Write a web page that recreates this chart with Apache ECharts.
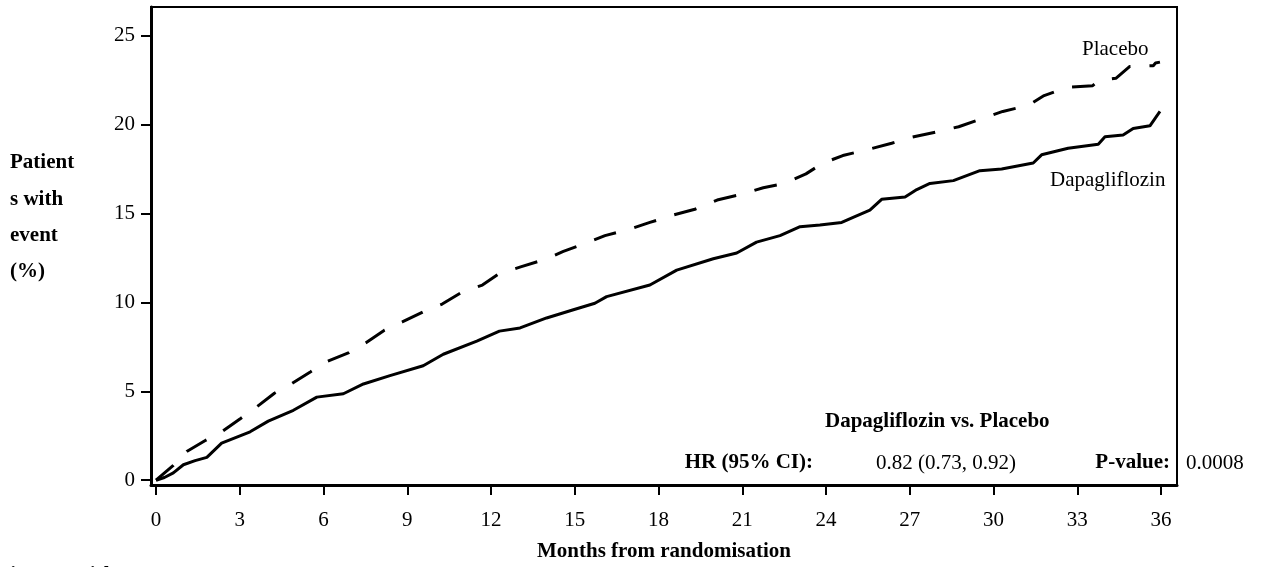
<!DOCTYPE html>
<html>
<head>
<meta charset="utf-8">
<script src="https://cdn.jsdelivr.net/npm/echarts@6/dist/echarts.min.js"></script>
<style>
html,body{margin:0;padding:0;background:#fff;}
#chart{width:1262px;height:567px;}
</style>
</head>
<body>
<div id="chart"></div>
<script>
// ---- Data ----
const xTicks = [0, 3, 6, 9, 12, 15, 18, 21, 24, 27, 30, 33, 36];
const yTicks = [0, 5, 10, 15, 20, 25];

const placeboMonths = [0,0.62,1.1,1.75,2.39,3.03,3.6,4.24,4.84,5.54,6.11,6.91,7.52,8.18,8.82,9.6,10.25,10.95,11.69,12.3,13.06,13.91,14.59,15.43,16.08,16.98,17.69,18.56,19.3,20.1,20.86,21.75,22.49,23.28,23.86,24.6,25.45,26.35,27.04,28.0,28.75,29.6,30.33,31.24,31.81,32.65,33.55,33.8,34.38,34.88,35.72,35.8,35.96];
const placeboPct    = [0,0.83,1.61,2.22,2.76,3.47,4.11,4.89,5.41,6.1,6.67,7.17,7.73,8.43,8.9,9.49,9.9,10.56,10.97,11.62,11.99,12.4,12.86,13.34,13.75,14.12,14.49,14.92,15.23,15.75,16.03,16.44,16.68,17.22,17.8,18.25,18.57,18.94,19.27,19.59,19.87,20.33,20.73,21.07,21.62,22.09,22.18,22.5,22.59,23.26,23.3,23.45,23.5];

const dapaMonths = [0,0.3,0.62,0.98,1.4,1.82,2.35,3.37,4.02,4.92,5.76,6.71,7.43,8.38,9.57,10.29,11.49,12.3,13.04,13.99,14.95,15.72,16.14,17.69,18.65,19.96,20.8,21.51,22.35,23.07,23.78,24.56,24.97,25.57,25.99,26.83,27.25,27.72,28.56,29.51,30.29,31.42,31.72,32.67,33.75,33.99,34.64,35.0,35.6,35.78,35.96];
const dapaPct    = [0,0.15,0.41,0.87,1.1,1.28,2.08,2.72,3.32,3.93,4.67,4.86,5.41,5.88,6.43,7.08,7.82,8.38,8.56,9.12,9.58,9.95,10.32,10.97,11.81,12.45,12.77,13.38,13.75,14.25,14.35,14.49,14.77,15.18,15.79,15.92,16.34,16.68,16.84,17.4,17.49,17.83,18.29,18.66,18.88,19.31,19.4,19.77,19.92,20.33,20.73];

const seriesNames = ['Placebo', 'Dapagliflozin'];
const xTitle = 'Months from randomisation';
const yTitleLines = ['Patient', 's with', 'event', '(%)'];
const statTitle = 'Dapagliflozin vs. Placebo';
const hrLabel = 'HR (95% CI):';
const hrValue = '0.82 (0.73, 0.92)';
const pLabel = 'P-value:';
const pValue = '0.0008';

// ---- Build ----
const FONT = "'Liberation Serif','Times New Roman',serif";
const FS = 21;
const zip = (a, b) => a.map((v, i) => [v, b[i]]);

const chart = echarts.init(document.getElementById('chart'), null, {renderer: 'canvas'});

const txt = (x, y, text, opts) => Object.assign({
  type: 'text', x: x, y: y,
  style: Object.assign({text: text, fill: '#000', font: FS + 'px ' + FONT, textVerticalAlign: 'middle'}, opts || {})
});
const BOLD = 'bold ' + FS + 'px ' + FONT;

chart.setOption({
  animation: false,
  backgroundColor: '#fff',
  grid: {left: 151, top: 7, width: 1026, height: 483, show: true, borderColor: '#000', borderWidth: 2, backgroundColor: 'transparent'},
  xAxis: {
    type: 'value', min: -0.18, max: 36.57,
    splitLine: {show: false},
    axisLine: {show: true, onZero: false, lineStyle: {color: '#000', width: 3}},
    axisTick: {show: true, length: 10, lineStyle: {color: '#000', width: 2}, customValues: xTicks},
    axisLabel: {customValues: xTicks, color: '#000', fontFamily: FONT, fontSize: FS, margin: 25},
    name: xTitle, nameLocation: 'middle', nameGap: 56,
    nameTextStyle: {color: '#000', fontFamily: FONT, fontSize: FS, fontWeight: 'bold'}
  },
  yAxis: {
    type: 'value', min: -0.27, max: 26.6,
    splitLine: {show: false},
    axisLine: {show: true, onZero: false, lineStyle: {color: '#000', width: 3}},
    axisTick: {show: true, length: 10, lineStyle: {color: '#000', width: 2}, customValues: yTicks},
    axisLabel: {customValues: yTicks, color: '#000', fontFamily: FONT, fontSize: FS, margin: 16}
  },
  series: [
    {
      name: seriesNames[0], type: 'line', data: zip(placeboMonths, placeboPct),
      showSymbol: false, symbol: 'none', z: 3,
      lineStyle: {color: '#000', width: 3, type: [23, 19], cap: 'butt'}
    },
    {
      name: seriesNames[1], type: 'line', data: zip(dapaMonths, dapaPct),
      showSymbol: false, symbol: 'none', z: 3,
      lineStyle: {color: '#000', width: 3, type: 'solid'}
    }
  ],
  graphic: [
    txt(10, 163, yTitleLines[0], {font: BOLD}),
    txt(10, 199.5, yTitleLines[1], {font: BOLD}),
    txt(10, 236, yTitleLines[2], {font: BOLD}),
    txt(10, 272, yTitleLines[3], {font: BOLD}),
    txt(1082, 49, seriesNames[0]),
    txt(1050, 180, seriesNames[1]),
    txt(825, 422, statTitle, {font: BOLD}),
    txt(813, 463, hrLabel, {font: BOLD, textAlign: 'right'}),
    txt(876, 463, hrValue),
    txt(1170, 463, pLabel, {font: BOLD, textAlign: 'right'}),
    txt(1186, 463, pValue),
    txt(-20, 576, 'Patients at risk', {font: BOLD})
  ]
});
</script>
</body>
</html>
